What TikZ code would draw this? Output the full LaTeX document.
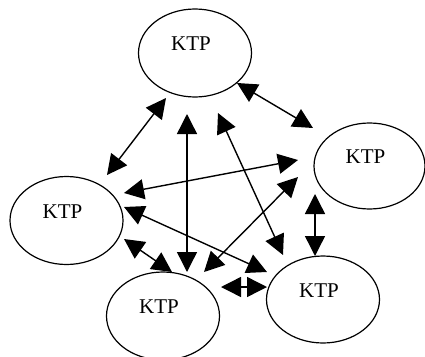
\documentclass[tikz,border=0pt]{standalone}
\usepackage{fontspec}
\setmainfont{Liberation Serif}
\usetikzlibrary{arrows.meta,shapes.geometric}
\begin{document}
\begin{tikzpicture}[x=1pt,y=-1pt,
  ktp/.style={draw,line width=1.2pt,ellipse,inner sep=0pt,minimum width=113pt,minimum height=88pt,
    label={[font=\fontsize{21}{23}\selectfont,xshift=-4pt,yshift=9pt]center:KTP}},
  link/.style={line width=1.4pt,{Triangle[length=20pt,width=20pt]}-{Triangle[length=20pt,width=20pt]}}]
\useasboundingbox (0,0) rectangle (425,356);
\node[ktp] (top) at (195,53) {};
\node[ktp,minimum width=111pt,minimum height=86pt] (right) at (369.5,166) {};
\node[ktp] (left) at (66.5,220.5) {};
\node[ktp] (bottom) at (163,316) {};
\node[ktp,minimum height=87pt] (bright) at (323,299.5) {};
% arrow end points
\coordinate (a1) at (166,98);   \coordinate (b1) at (107,175);
\coordinate (a2) at (237,83);   \coordinate (b2) at (313,128);
\coordinate (a3) at (187,114);  \coordinate (b3) at (187,272);
\coordinate (a4) at (218,113);  \coordinate (b4) at (283,255);
\coordinate (a5) at (298,160);  \coordinate (b5) at (124,193);
\coordinate (a6) at (315,194);  \coordinate (b6) at (315,256);
\coordinate (a7) at (298,177);  \coordinate (b7) at (204,272);
\coordinate (a8) at (124,207);  \coordinate (b8) at (267,272);
\coordinate (a9) at (124,239);  \coordinate (b9) at (172,272);
\coordinate (a10) at (221,287); \coordinate (b10) at (267,287);
\foreach \i in {1,...,10} {\draw[link] (a\i) -- (b\i);}
\end{tikzpicture}
\end{document}
